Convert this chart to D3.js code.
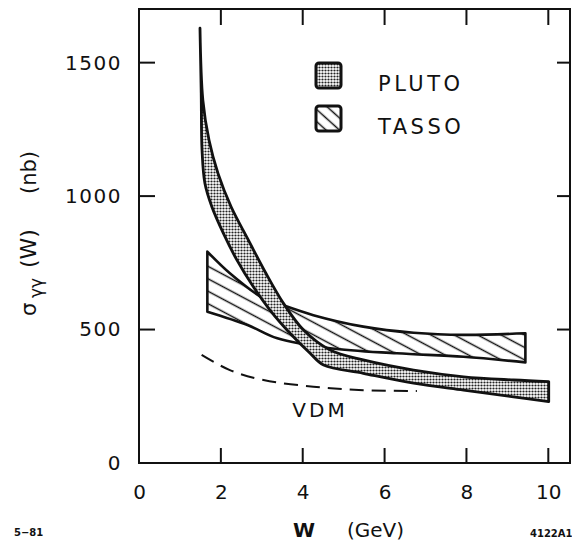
<!DOCTYPE html>
<html>
<head>
<meta charset="utf-8">
<script src="https://cdn.jsdelivr.net/npm/d3@7"></script>
<style>
  html, body { margin: 0; padding: 0; background: #fff; }
  svg { display: block; }
  text { font-family: "DejaVu Sans", "Liberation Sans", sans-serif; fill: #111; }
</style>
</head>
<body>
<svg id="chart" width="572" height="543"></svg>
<script>
// ---- data (W in GeV, sigma in nb) ----
const xTicks = [0, 2, 4, 6, 8, 10];
const yTicks = [0, 500, 1000, 1500];

// PLUTO band: lower boundary and upper boundary
const plutoLower = [
  [1.49, 1629], [1.52, 1385], [1.54, 1173], [1.61, 1048], [1.78, 960],
  [2.06, 861], [2.39, 761], [2.79, 661], [3.20, 573], [3.69, 486],
  [4.18, 411], [4.51, 367], [5.48, 336], [6.71, 299], [7.93, 273],
  [9.15, 248], [10.01, 230]
];
const plutoUpper = [
  [1.49, 1629], [1.56, 1360], [1.71, 1210], [1.93, 1085], [2.25, 960],
  [2.67, 836], [3.10, 711], [3.53, 598], [4.02, 498], [4.67, 423],
  [5.48, 386], [6.71, 348], [7.93, 323], [9.15, 311], [10.01, 305]
];

// TASSO band: upper boundary and lower boundary
const tassoUpper = [
  [1.67, 792], [2.22, 711], [3.04, 617], [3.28, 604], [4.26, 554],
  [5.48, 511], [6.71, 488], [7.93, 480], [9.44, 486]
];
const tassoLower = [
  [1.67, 567], [2.65, 517], [3.38, 467], [4.67, 430], [6.30, 411],
  [7.93, 398], [9.44, 377]
];

// VDM prediction (dashed)
const vdm = [
  [1.53, 405], [2.22, 348], [3.04, 311], [4.26, 286], [5.48, 273], [6.79, 270]
];

const legendItems = ["PLUTO", "TASSO"];

// ---- layout ----
const svg = d3.select("#chart");
const mLeft = 139, mRight = 570, mTop = 9, mBottom = 463;
const x = d3.scaleLinear().domain([0, 10.53]).range([mLeft, mRight]);
const y = d3.scaleLinear().domain([0, 1701]).range([mBottom, mTop]);

// patterns
const defs = svg.append("defs");
const dots = defs.append("pattern")
  .attr("id", "stipple").attr("patternUnits", "userSpaceOnUse")
  .attr("width", 3).attr("height", 3);
dots.append("rect").attr("width", 3).attr("height", 3).attr("fill", "#fff");
dots.append("circle").attr("cx", 1.5).attr("cy", 1.5).attr("r", 1.1).attr("fill", "#222");

const hatch = defs.append("pattern")
  .attr("id", "hatch").attr("patternUnits", "userSpaceOnUse")
  .attr("width", 40).attr("height", 11)
  .attr("patternTransform", "rotate(28)");
hatch.append("rect").attr("width", 40).attr("height", 11).attr("fill", "#fff");
hatch.append("path").attr("d", "M0,5.5H40")
  .attr("stroke", "#111").attr("stroke-width", 1.3);

const hatchL = defs.append("pattern")
  .attr("id", "hatchL").attr("patternUnits", "userSpaceOnUse")
  .attr("width", 40).attr("height", 9)
  .attr("patternTransform", "rotate(42)");
hatchL.append("rect").attr("width", 40).attr("height", 9).attr("fill", "#fff");
hatchL.append("path").attr("d", "M0,4.5H40")
  .attr("stroke", "#111").attr("stroke-width", 1.6);

// band helper
const curveLine = d3.line().x(d => x(d[0])).y(d => y(d[1])).curve(d3.curveCatmullRom.alpha(0.5));
function bandPath(a, b) {
  const p1 = curveLine(a);
  const p2 = curveLine(b.slice().reverse());
  return p1 + "L" + p2.slice(1) + "Z";
}

// TASSO
svg.append("path")
  .attr("d", bandPath(tassoUpper, tassoLower))
  .attr("fill", "url(#hatch)")
  .attr("stroke", "#111").attr("stroke-width", 2.6)
  .attr("stroke-linejoin", "round");

// PLUTO
svg.append("path")
  .attr("d", bandPath(plutoLower, plutoUpper))
  .attr("fill", "url(#stipple)")
  .attr("stroke", "#111").attr("stroke-width", 2.8)
  .attr("stroke-linejoin", "round");

// VDM dashed
svg.append("path")
  .attr("d", curveLine(vdm))
  .attr("fill", "none").attr("stroke", "#111").attr("stroke-width", 2)
  .attr("stroke-dasharray", "14,8");

svg.append("text").attr("x", 320).attr("y", 417)
  .attr("text-anchor", "middle").attr("font-size", 20)
  .attr("letter-spacing", 3).text("VDM");

// legend
const lg = svg.append("g");
legendItems.forEach((name, i) => {
  const yy = 63 + i * 43;
  lg.append("rect").attr("x", 316).attr("y", yy).attr("width", 25).attr("height", 25)
    .attr("rx", 3).attr("fill", i === 0 ? "url(#stipple)" : "url(#hatchL)")
    .attr("stroke", "#111").attr("stroke-width", 3);
  lg.append("text").attr("x", 378).attr("y", yy + 28)
    .attr("font-size", 21).attr("letter-spacing", 3.5).text(name);
});

// frame
svg.append("rect")
  .attr("x", mLeft).attr("y", mTop)
  .attr("width", mRight - mLeft).attr("height", mBottom - mTop)
  .attr("fill", "none").attr("stroke", "#111").attr("stroke-width", 2);

// tick labels via d3 axes
svg.append("g").attr("transform", `translate(0,${mBottom})`)
  .call(d3.axisBottom(x).tickValues(xTicks).tickSize(0).tickPadding(22).tickFormat(d3.format("d")))
  .call(g => g.select(".domain").remove())
  .call(g => g.selectAll(".tick text").attr("font-size", 20).attr("fill", "#111")
    .style("font-family", "DejaVu Sans, sans-serif"));
svg.append("g").attr("transform", `translate(${mLeft},0)`)
  .call(d3.axisLeft(y).tickValues(yTicks).tickSize(0).tickPadding(17).tickFormat(d3.format("d")))
  .call(g => g.select(".domain").remove())
  .call(g => g.selectAll(".tick text").attr("font-size", 20).attr("fill", "#111")
    .attr("letter-spacing", 1.5).style("font-family", "DejaVu Sans, sans-serif"));

// inward tick marks from the same scales
const tickG = svg.append("g").attr("fill", "none").attr("stroke", "#111").attr("stroke-width", 2);
const xInner = xTicks.filter(d => d > 0);
const yInner = yTicks.filter(d => d > 0);
tickG.selectAll("path.tb").data(xInner).join("path").attr("class", "tb")
  .attr("d", d => `M${x(d)},${mBottom}V${mBottom - 15}`);
tickG.selectAll("path.tt").data(xInner).join("path").attr("class", "tt")
  .attr("d", d => `M${x(d)},${mTop}V${mTop + 16}`);
tickG.selectAll("path.tl").data(yInner).join("path").attr("class", "tl")
  .attr("d", d => `M${mLeft},${y(d)}H${mLeft + 16}`);
tickG.selectAll("path.tr").data(yInner).join("path").attr("class", "tr")
  .attr("d", d => `M${mRight},${y(d)}H${mRight - 13}`);

// axis titles
svg.append("text").attr("x", 304).attr("y", 537)
  .attr("text-anchor", "middle").attr("font-size", 20).attr("font-weight", "bold").text("W");
svg.append("text").attr("x", 347).attr("y", 537)
  .attr("font-size", 20).text("(GeV)");

svg.append("text").attr("transform", "translate(36,316) rotate(-90)")
  .attr("font-size", 21).text("σ");
svg.append("text").attr("transform", "translate(42,298) rotate(-90)")
  .attr("font-size", 17).text("γγ");
svg.append("text").attr("transform", "translate(36,268) rotate(-90)")
  .attr("font-size", 22).text("(W)");
svg.append("text").attr("transform", "translate(36,194) rotate(-90)")
  .attr("font-size", 21).text("(nb)");

// corner notes
svg.append("text").attr("x", 14).attr("y", 536).attr("font-size", 10).attr("font-weight", "bold").text("5−81");
svg.append("text").attr("x", 530).attr("y", 537).attr("font-size", 10).attr("font-weight", "bold").text("4122A1");
</script>
</body>
</html>
